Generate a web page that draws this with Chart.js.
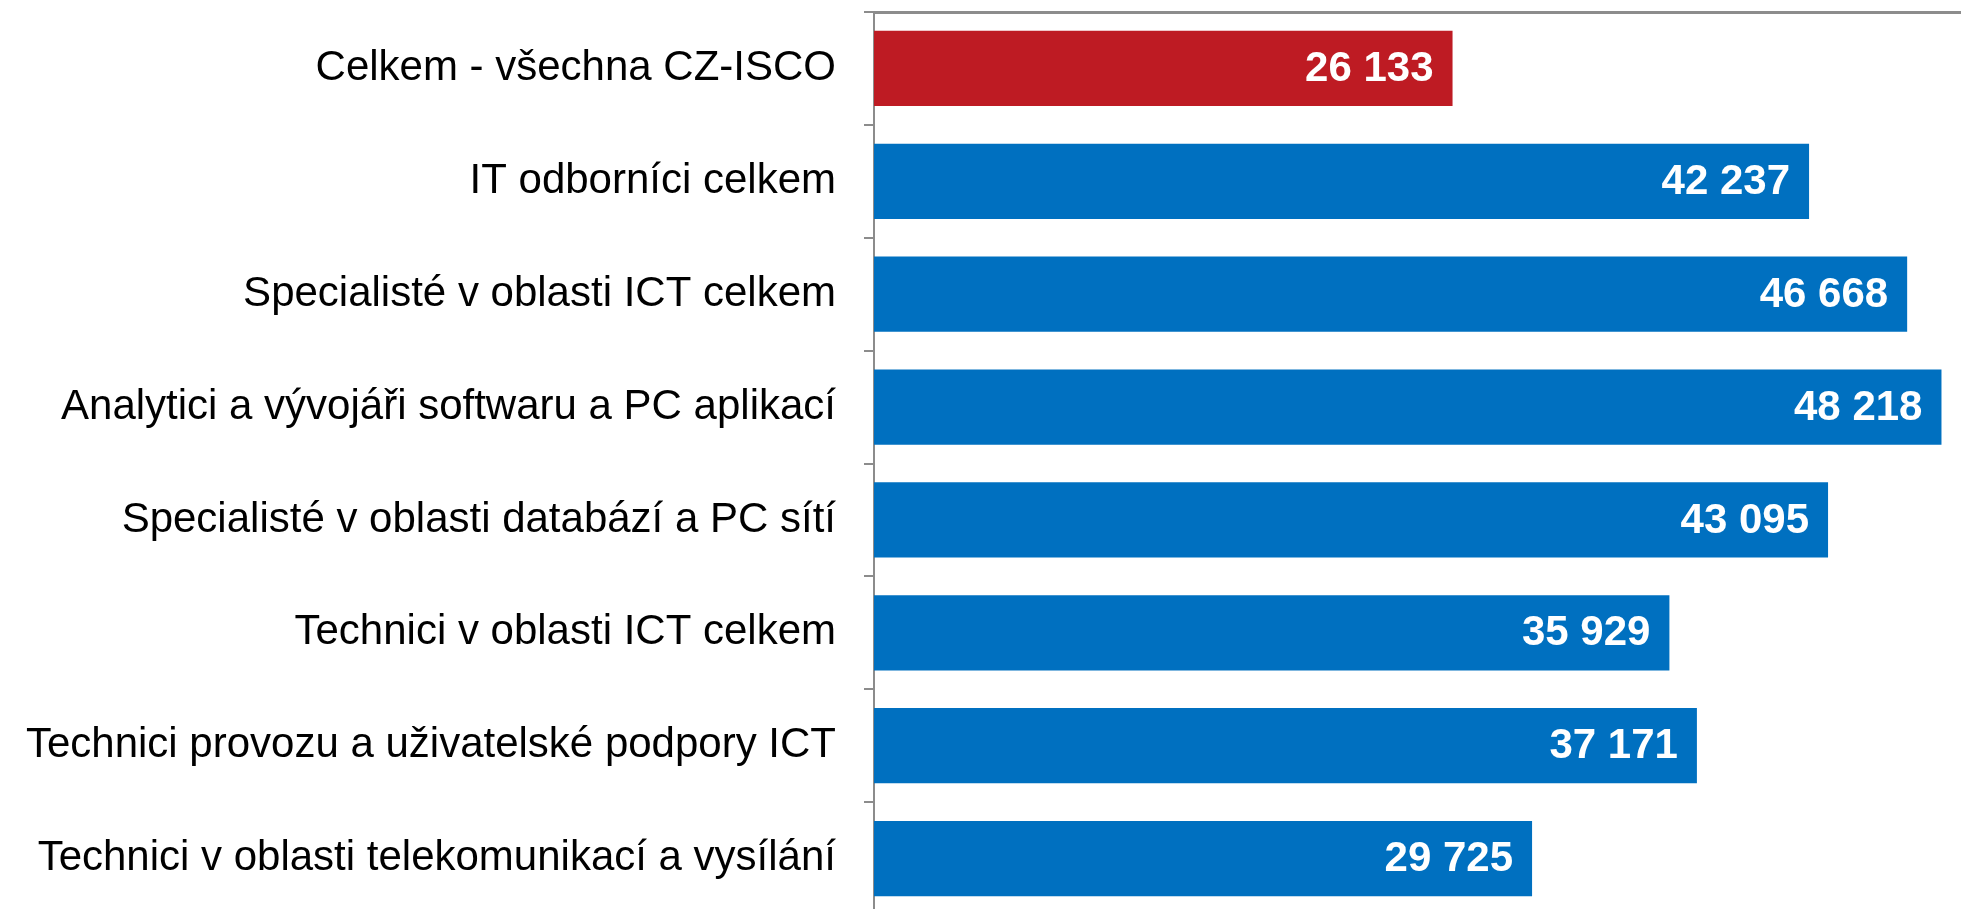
<!DOCTYPE html>
<html>
<head>
<meta charset="utf-8">
<script src="https://cdn.jsdelivr.net/npm/chart.js@4/dist/chart.umd.min.js"></script>
<style>
  html, body { margin: 0; padding: 0; background: #fff; overflow: hidden; }
  #wrap { position: relative; width: 1961px; height: 915px; }
</style>
</head>
<body>
<div id="wrap"><canvas id="barChart"></canvas></div>
<script>
"use strict";

var categories = [
  "Celkem - všechna CZ-ISCO",
  "IT odborníci celkem",
  "Specialisté v oblasti ICT celkem",
  "Analytici a vývojáři softwaru a PC aplikací",
  "Specialisté v oblasti databází a PC sítí",
  "Technici v oblasti ICT celkem",
  "Technici provozu a uživatelské podpory ICT",
  "Technici v oblasti telekomunikací a vysílání"
];
var values = [26133, 42237, 46668, 48218, 43095, 35929, 37171, 29725];
var barColors = ["#BE1B23", "#0070C0", "#0070C0", "#0070C0", "#0070C0", "#0070C0", "#0070C0", "#0070C0"];

function fmt(v) {
  return String(v).replace(/\B(?=(\d{3})+(?!\d))/g, " ");
}

/*white value labels at the end of each bar*/
var valueLabels = {
  id: "valueLabels",
  afterDatasetsDraw: function(chart) {
    var ctx = chart.ctx;
    var meta = chart.getDatasetMeta(0);
    ctx.save();
    ctx.fillStyle = "#ffffff";
    ctx.font = "bold 42px 'Liberation Sans', Arial, sans-serif";
    ctx.textAlign = "right";
    ctx.textBaseline = "middle";
    meta.data.forEach(function(bar, i) {
      ctx.fillText(fmt(values[i]), bar.x - 19, bar.y + 1);
    });
    ctx.restore();
  }
};

var ctx = document.getElementById("barChart");
new Chart(ctx, {
  type: "bar",
  data: {
    labels: categories,
    datasets: [{
      data: values,
      backgroundColor: barColors,
      borderWidth: 0,
      barPercentage: 0.667,
      categoryPercentage: 1
    }]
  },
  options: {
    indexAxis: "y",
    responsive: true,
    maintainAspectRatio: false,
    animation: false,
    layout: { padding: { top: 12, right: 0, bottom: 0, left: 0 } },
    plugins: {
      legend: { display: false },
      tooltip: { enabled: false }
    },
    scales: {
      x: {
        position: "top",
        min: 0,
        max: 49100,
        ticks: { display: false },
        grid: { display: false, drawTicks: false },
        border: { display: true, color: "#8c8c8c", width: 3 }
      },
      y: {
        afterFit: function(scale) {
          scale.width = 874;
          scale.paddingTop = 0;
          scale.paddingBottom = 0;
        },
        ticks: {
          color: "#000000",
          padding: 28,
          font: { family: "'Liberation Sans', Arial, sans-serif", size: 42 }
        },
        grid: {
          drawOnChartArea: false,
          drawTicks: true,
          tickLength: 10,
          color: "#8c8c8c",
          lineWidth: 2
        },
        border: { display: true, color: "#8c8c8c", width: 2 }
      }
    }
  },
  plugins: [valueLabels]
});
</script>
</body>
</html>
